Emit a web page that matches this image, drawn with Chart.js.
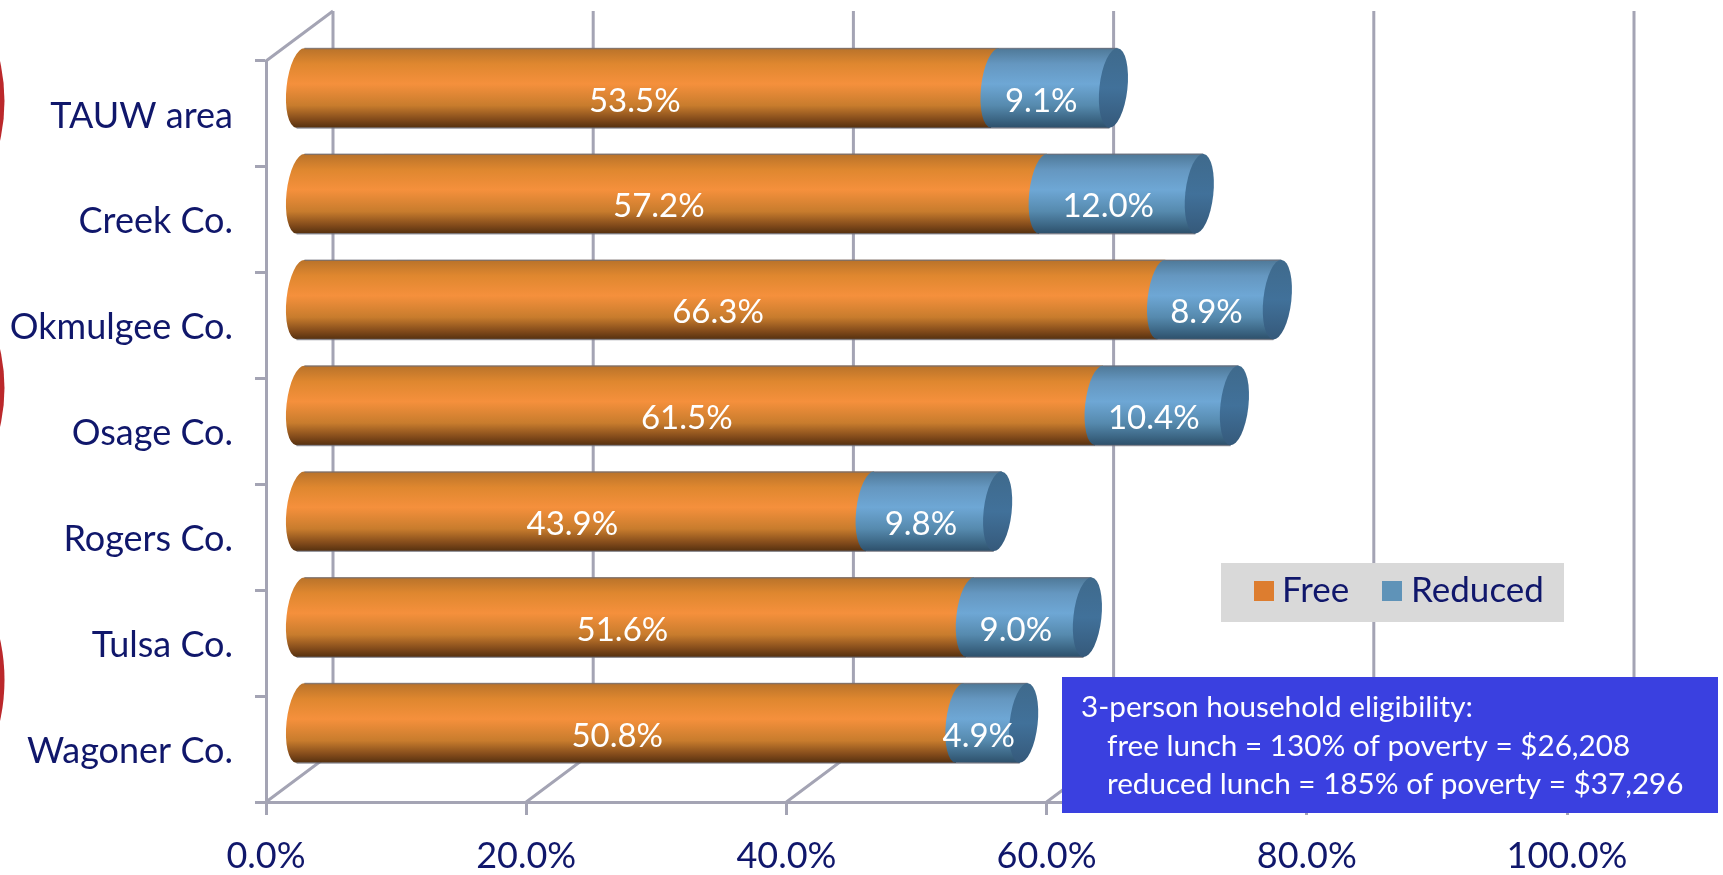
<!DOCTYPE html>
<html><head><meta charset="utf-8">
<style>html,body{margin:0;padding:0;background:#fff;overflow:hidden}canvas{display:block}</style>
<script src="https://cdn.jsdelivr.net/npm/chart.js@4/dist/chart.umd.min.js"></script>
</head><body><canvas id="c" width="1723" height="875"></canvas>
<script>
const categories = ["TAUW area","Creek Co.","Okmulgee Co.","Osage Co.","Rogers Co.","Tulsa Co.","Wagoner Co."];
const freeValues = [53.5,57.2,66.3,61.5,43.9,51.6,50.8];
const reducedValues = [9.1,12.0,8.9,10.4,9.8,9.0,4.9];
const seriesNames = ["Free","Reduced"];
const noteLines = ["3-person household eligibility:","free lunch = 130% of poverty = $26,208","reduced lunch = 185% of poverty = $37,296"];

const FONT = 'Lato, "Noto Sans", sans-serif';
const NAVY = '#10176b';
const AXIS = '#a4a4b4';
const DEPTH_X = 67, DEPTH_Y = 50;
const BAR_DX = 33, BAR_DY = -26;
const RX = 14, TILT = 0.11;

const orangeStops = [[0,'#b8722a'],[0.2,'#df872f'],[0.45,'#f5903c'],[0.72,'#c87c2d'],[0.9,'#80491a'],[1,'#54300f']];
const blueStops = [[0,'#4e7897'],[0.2,'#6597c0'],[0.45,'#6ea7d5'],[0.72,'#568aae'],[0.9,'#3b6583'],[1,'#2d4f6a']];
const stopSets = [orangeStops, blueStops];

function cylinderGrad(ctx, top, bottom, stops){
  const g = ctx.createLinearGradient(0, top, 0, bottom);
  stops.forEach(s => g.addColorStop(s[0], s[1]));
  return g;
}

function drawCylinders(chart, index){
  const {ctx} = chart;
  const stops = stopSets[index];
  ctx.save();
  ctx.translate(BAR_DX, BAR_DY);
  chart.getDatasetMeta(index).data.forEach(bar => {
    const p = bar.getProps(['x','y','base','height'], true);
    const top = p.y - p.height/2, bottom = p.y + p.height/2;
    const ry = p.height/2;
    const skew = ry*Math.sin(TILT)*0.9;
    ctx.beginPath();
    ctx.ellipse(p.base, p.y, RX, ry, TILT, Math.PI/2, Math.PI*1.5);
    ctx.lineTo(p.x + skew, top);
    ctx.lineTo(p.x - skew, bottom);
    ctx.closePath();
    ctx.fillStyle = cylinderGrad(ctx, top, bottom, stops);
    ctx.fill();
    ctx.strokeStyle = 'rgba(110,110,120,0.7)'; ctx.lineWidth = 1.5;
    ctx.beginPath(); ctx.moveTo(p.base + skew, top + .5); ctx.lineTo(p.x + skew, top + .5); ctx.stroke();
    ctx.beginPath(); ctx.moveTo(p.base - skew, bottom); ctx.lineTo(p.x - skew, bottom); ctx.stroke();
    if (index === chart.data.datasets.length - 1) {
      ctx.beginPath();
      ctx.ellipse(p.x, p.y, RX, ry, TILT, 0, Math.PI*2);
      const g = ctx.createLinearGradient(0, top, 0, bottom);
      g.addColorStop(0,'#3f6a8c'); g.addColorStop(0.5,'#41719a'); g.addColorStop(1,'#35597a');
      ctx.fillStyle = g; ctx.fill();
    }
  });
  ctx.restore();
}

const view3d = {
  id: 'view3d',
  beforeDatasetsDraw(chart){
    const {ctx, chartArea:a, scales:{x}} = chart;
    ctx.save();
    ctx.strokeStyle = AXIS; ctx.lineWidth = 3; ctx.lineCap = 'butt';
    x.ticks.forEach(t => {
      const px = x.getPixelForValue(t.value);
      ctx.beginPath();
      ctx.moveTo(px, a.bottom);
      ctx.lineTo(px + DEPTH_X, a.bottom - DEPTH_Y);
      ctx.lineTo(px + DEPTH_X, a.top - DEPTH_Y);
      ctx.stroke();
    });
    ctx.beginPath();
    ctx.moveTo(a.left, a.top);
    ctx.lineTo(a.left + DEPTH_X, a.top - DEPTH_Y);
    ctx.stroke();
    ctx.restore();
  },
  beforeDatasetDraw(){ return false; },
  afterDatasetsDraw(chart){
    const {ctx} = chart;
    chart.data.datasets.forEach((ds, i) => drawCylinders(chart, i));
    ctx.save();
    ctx.fillStyle = '#fff';
    ctx.font = '33px ' + FONT;
    ctx.textAlign = 'center'; ctx.textBaseline = 'middle';
    chart.data.datasets.forEach((ds, i) => {
      chart.getDatasetMeta(i).data.forEach((bar, j) => {
        const p = bar.getProps(['x','y','base'], true);
        ctx.fillText(ds.data[j].toFixed(1) + '%', (p.x + p.base)/2 + 20, p.y - 13);
      });
    });
    ctx.restore();
  },
  afterDraw(chart){
    const {ctx} = chart;
    ctx.save();
    // partial red circles clipped by the left edge
    ctx.fillStyle = '#bb282b';
    [[101,40],[388,39],[680,41]].forEach(r => {
      const sag = 4.5, R = (r[1]*r[1])/(2*sag) + sag/2;
      ctx.beginPath(); ctx.arc(sag - R, r[0], R, 0, Math.PI*2); ctx.fill();
    });
    // legend panel
    ctx.fillStyle = '#d9d9d9'; ctx.fillRect(1221, 563, 343, 59);
    ctx.textBaseline = 'middle'; ctx.textAlign = 'left'; ctx.font = '35px ' + FONT;
    const lg = [[1254,1282],[1382,1411]], cols = ['#dd7d2f','#5f93b8'];
    chart.data.datasets.forEach((ds, i) => {
      ctx.fillStyle = cols[i]; ctx.fillRect(lg[i][0], 581, 20, 20);
      ctx.fillStyle = NAVY; ctx.fillText(ds.label, lg[i][1], 591);
    });
    // note box
    ctx.fillStyle = '#3a40e0'; ctx.fillRect(1062, 677, 656, 136);
    ctx.fillStyle = '#fff'; ctx.font = '29.7px ' + FONT;
    [[1081,707],[1107,746],[1107,784]].forEach((p, i) => ctx.fillText(noteLines[i], p[0], p[1]));
    ctx.restore();
  }
};

new Chart(document.getElementById('c').getContext('2d'), {
  type: 'bar',
  data: { labels: categories, datasets: [
    { label: seriesNames[0], data: freeValues, backgroundColor:'#dd7d2f' },
    { label: seriesNames[1], data: reducedValues, backgroundColor:'#5f93b8' }
  ]},
  options: {
    indexAxis: 'y', responsive:false, animation:false,
    layout:{padding:{top:61,right:156,bottom:0,left:0}},
    plugins:{legend:{display:false},tooltip:{enabled:false},title:{display:false}},
    datasets:{bar:{barPercentage:0.755,categoryPercentage:1}},
    scales:{
      x:{ stacked:true, min:0, max:100,
        afterFit(s){ s.height = 73; },
        afterBuildTicks(s){ s.ticks = [0,20,40,60,80,100].map(v=>({value:v})); },
        grid:{drawOnChartArea:false,drawTicks:true,tickLength:13,color:AXIS,lineWidth:3},
        border:{display:true,color:AXIS,width:3},
        ticks:{color:NAVY,font:{family:FONT,size:36},padding:20,maxRotation:0,callback:v=>Number(v).toFixed(1)+'%'}
      },
      y:{ stacked:true,
        afterFit(s){ s.width = 266; },
        grid:{drawOnChartArea:false,drawTicks:true,tickLength:11,color:AXIS,lineWidth:3},
        border:{display:true,color:AXIS,width:3},
        ticks:{color:NAVY,font:{family:FONT,size:36},padding:22,labelOffset:2}
      }
    }
  },
  plugins:[view3d]
});
</script></body></html>
